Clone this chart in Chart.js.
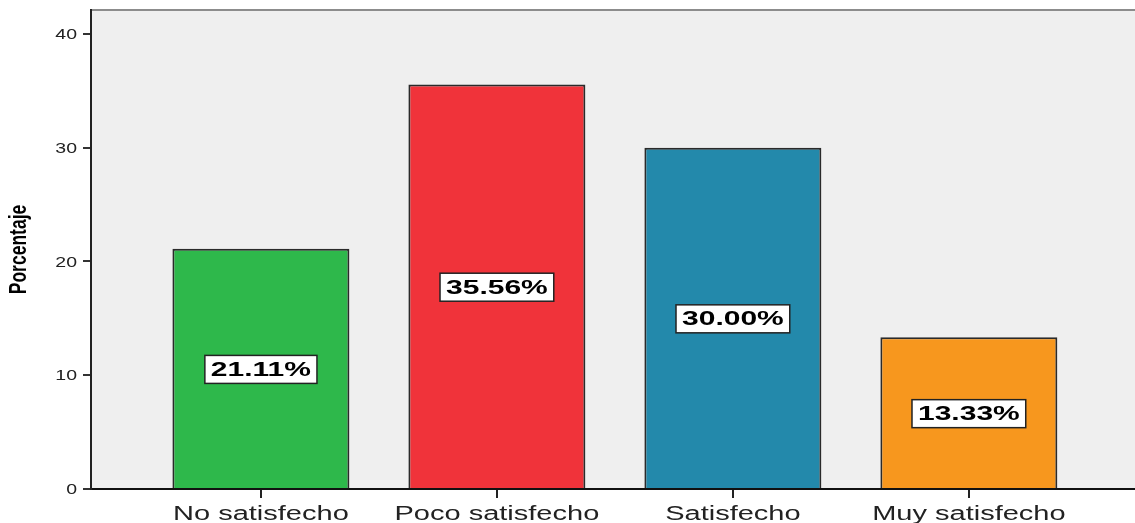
<!DOCTYPE html>
<html>
<head>
<meta charset="utf-8">
<script src="https://cdn.jsdelivr.net/npm/chart.js@4/dist/chart.umd.min.js"></script>
<style>
  html, body { margin: 0; padding: 0; background: #fff; overflow: hidden; }
  #wrap { width: 1135px; height: 523px; position: relative; }
</style>
</head>
<body>
<div id="wrap"><canvas id="satisfaccion"></canvas></div>
<script>
const categories = ['No satisfecho', 'Poco satisfecho', 'Satisfecho', 'Muy satisfecho'];
const porcentajes = [21.11, 35.56, 30.00, 13.33];
const colores = ['#2eb84b', '#f0333a', '#2389ab', '#f7971e'];
const yTicks = [0, 10, 20, 30, 40];
const yTitle = 'Porcentaje';

const FONT = '"Liberation Sans", Arial, sans-serif';

// draws text squeezed/stretched horizontally around (x, y)
function wideText(ctx, text, x, y, sx, align) {
    ctx.save();
    ctx.translate(x, y);
    ctx.scale(sx, 1);
    ctx.textAlign = align || 'center';
    ctx.fillText(text, 0, 0);
    ctx.restore();
}

// ========== Plot background ==========
const backdrop = {
    id: 'backdrop',
    beforeDraw(chart) {
        const { ctx, chartArea: a } = chart;
        ctx.save();
        ctx.fillStyle = '#efefef';
        ctx.fillRect(a.left, a.top, a.right - a.left, a.bottom - a.top);
        ctx.strokeStyle = '#8c8c8c';
        ctx.lineWidth = 2;
        ctx.beginPath();
        ctx.moveTo(a.left, a.top);
        ctx.lineTo(a.right, a.top);
        ctx.stroke();
        ctx.restore();
    }
};

// ========== Tick labels, axis title and value boxes ==========
const labels = {
    id: 'labels',
    afterDraw(chart) {
        const { ctx, chartArea: a, scales: { x, y } } = chart;
        ctx.save();
        ctx.fillStyle = '#222';
        ctx.textBaseline = 'middle';
        ctx.font = '15px ' + FONT;
        yTicks.forEach(v => wideText(ctx, String(v), 77, y.getPixelForValue(v) + 1, 1.3, 'right'));

        // vertical axis title, glyphs widened like the other text
        ctx.save();
        ctx.fillStyle = '#000';
        ctx.font = 'bold 17.5px ' + FONT;
        ctx.translate(19, (a.top + a.bottom) / 2);
        ctx.rotate(-Math.PI / 2);
        ctx.scale(1, 1.35);
        ctx.textAlign = 'center';
        ctx.fillText(yTitle, 0, 0);
        ctx.restore();

        ctx.textBaseline = 'alphabetic';
        ctx.font = '20px ' + FONT;
        categories.forEach((c, i) => wideText(ctx, c, x.getPixelForValue(i), 520, 1.45));

        const meta = chart.getDatasetMeta(0);
        ctx.font = 'bold 20px ' + FONT;
        ctx.textBaseline = 'middle';
        meta.data.forEach((bar, i) => {
            const txt = porcentajes[i].toFixed(2) + '%';
            const w = ctx.measureText(txt).width * 1.5 + 12;
            const h = 28;
            const cx = bar.x;
            const cy = (bar.y + bar.base) / 2 + 1;
            ctx.fillStyle = '#fff';
            ctx.fillRect(cx - w / 2, cy - h / 2, w, h);
            ctx.strokeStyle = '#222';
            ctx.lineWidth = 1.5;
            ctx.strokeRect(cx - w / 2, cy - h / 2, w, h);
            ctx.fillStyle = '#000';
            wideText(ctx, txt, cx, cy + 1, 1.5);
        });
        ctx.restore();
    }
};

new Chart(document.getElementById('satisfaccion'), {
    type: 'bar',
    data: {
        datasets: [{
            data: porcentajes.map((v, i) => ({ x: i, y: v })),
            backgroundColor: colores,
            borderColor: '#2a2a2a',
            borderWidth: 2,
            barPercentage: 0.75,
            categoryPercentage: 1
        }]
    },
    options: {
        responsive: true,
        maintainAspectRatio: false,
        animation: false,
        layout: { padding: { top: 10, left: 0, right: 0, bottom: 0 } },
        plugins: {
            legend: { display: false },
            tooltip: { enabled: false }
        },
        scales: {
            x: {
                type: 'linear',
                offset: false,
                min: -0.72,
                max: 3.704,
                afterBuildTicks: s => { s.ticks = categories.map((c, i) => ({ value: i })); },
                afterFit: s => { s.height = 34; },
                ticks: { display: false },
                grid: { offset: false, drawOnChartArea: false, drawTicks: true, tickLength: 9, color: '#222', lineWidth: 2 },
                border: { display: true, color: '#111', width: 2 }
            },
            y: {
                min: 0,
                max: 42.1,
                afterBuildTicks: s => { s.ticks = yTicks.map(v => ({ value: v })); },
                afterFit: s => { s.width = 91; },
                ticks: { display: false },
                grid: { drawOnChartArea: false, drawTicks: true, tickLength: 8, color: '#333', lineWidth: 2 },
                border: { display: true, color: '#222', width: 2 }
            }
        }
    },
    plugins: [backdrop, labels]
});
</script>
</body>
</html>
